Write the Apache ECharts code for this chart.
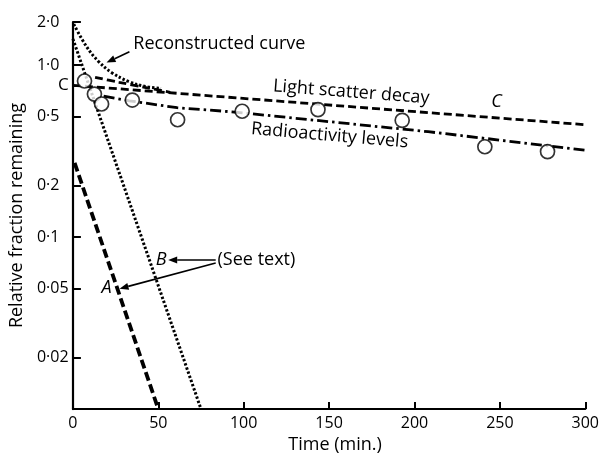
<!DOCTYPE html>
<html><head><meta charset="utf-8">
<script src="https://cdn.jsdelivr.net/npm/echarts@6/dist/echarts.min.js"></script>
<style>html,body{margin:0;padding:0;background:#fff}#c{width:602px;height:459px}</style>
</head><body><div id="c"></div>
<script>
// ---- data ----
const xTickValues = [0, 50, 100, 150, 200, 250, 300];
const yTickValues = [0.02, 0.05, 0.1, 0.2, 0.5, 0.763, 1.0, 1.78];
const yTickLabels = ['0·02', '0·05', '0·1', '0·2', '0·5', 'C', '1·0', '2·0'];

const radioPointTimes  = [6.8, 12.6, 16.8, 34.8, 61.3, 99.1, 143.5, 192.8, 241.2, 277.9];
const radioPointValues = [0.808, 0.678, 0.594, 0.626, 0.481, 0.539, 0.551, 0.477, 0.335, 0.314];

const radioLineTimes  = [18, 33, 61, 93, 208, 300];
const radioLineValues = [0.66, 0.62, 0.565, 0.535, 0.41, 0.32];

const scatterLineTimes  = [0, 300];
const scatterLineValues = [0.763, 0.45];

const scatterEarlyTimes  = [13, 27, 42, 57];
const scatterEarlyValues = [0.848, 0.794, 0.743, 0.695];

const reconTimes  = [0.5, 8, 15, 22.6, 32.5, 41.8, 51.6];
const reconValues = [1.73, 1.28, 1.05, 0.906, 0.804, 0.753, 0.733];

const lineATimes  = [1, 50];
const lineAValues = [0.27, 0.01];
const lineBTimes  = [0, 75];
const lineBValues = [1.42, 0.01];

const pairs = (xs, ys) => xs.map((x, i) => [x, ys[i]]);

const FONT = '"Open Sans", "DejaVu Sans", sans-serif';
const chart = echarts.init(document.getElementById('c'), null, {renderer: 'canvas'});

chart.setOption({
  backgroundColor: '#fff',
  animation: false,
  grid: {left: 71, right: 14, top: 22, bottom: 45, containLabel: false},
  xAxis: {
    type: 'value', min: 0, max: 300, interval: 50,
    name: 'Time (min.)', nameLocation: 'middle', nameGap: 24,
    nameTextStyle: {fontFamily: FONT, fontSize: 18, color: '#000', padding: [0, 0, 0, 12]},
    axisLine: {lineStyle: {color: '#000', width: 2.2}},
    axisTick: {inside: true, length: 7, lineStyle: {color: '#000', width: 2}, customValues: xTickValues},
    axisLabel: {fontFamily: FONT, fontSize: 16, color: '#000', margin: 6, customValues: xTickValues},
    splitLine: {show: false}
  },
  yAxis: {
    type: 'log', logBase: 10, min: 0.01, max: 1.78,
    name: 'Relative fraction remaining', nameLocation: 'middle', nameGap: 46,
    nameTextStyle: {fontFamily: FONT, fontSize: 18, color: '#000'},
    axisLine: {lineStyle: {color: '#000', width: 2.2}},
    axisTick: {inside: true, length: 8, lineStyle: {color: '#000', width: 2}, customValues: yTickValues},
    axisLabel: {
      fontFamily: FONT, fontSize: 16, color: '#000', align: 'left', margin: 36,
      customValues: yTickValues,
      formatter: v => {
        let best = 0, d = Infinity;
        yTickValues.forEach((t, i) => { const dd = Math.abs(Math.log(t) - Math.log(v)); if (dd < d) { d = dd; best = i; } });
        const lab = yTickLabels[best];
        return lab === 'C' ? '{c|C}' : lab;
      },
      rich: {c: {fontFamily: FONT, fontSize: 17, color: '#000', padding: [0, 0, 0, 21]}}
    },
    splitLine: {show: false}
  },
  series: [
    {name: 'Reconstructed curve', type: 'line', smooth: 0.4, symbol: 'none',
     data: pairs(reconTimes, reconValues),
     lineStyle: {color: '#000', width: 3, type: [2.4, 2], cap: 'butt'}},
    {name: 'B', type: 'line', symbol: 'none', data: pairs(lineBTimes, lineBValues),
     lineStyle: {color: '#000', width: 3, type: [2.4, 2], cap: 'butt'}},
    {name: 'A', type: 'line', symbol: 'none', data: pairs(lineATimes, lineAValues),
     lineStyle: {color: '#000', width: 3.8, type: [9, 4], cap: 'butt'}},
    {name: 'Light scatter decay', type: 'line', symbol: 'none', data: pairs(scatterLineTimes, scatterLineValues),
     lineStyle: {color: '#000', width: 2.8, type: [8, 4], cap: 'butt'}},
    {name: 'Light scatter early', type: 'line', smooth: 0.3, symbol: 'none', data: pairs(scatterEarlyTimes, scatterEarlyValues),
     lineStyle: {color: '#000', width: 2.8, type: [8, 4], cap: 'butt'}},
    {name: 'Radioactivity levels', type: 'line', symbol: 'none', data: pairs(radioLineTimes, radioLineValues),
     lineStyle: {color: '#000', width: 2.8, type: [11, 4, 2.5, 4], cap: 'butt'}},
    {name: 'Radioactivity points', type: 'scatter', symbol: 'circle', symbolSize: 14,
     data: pairs(radioPointTimes, radioPointValues),
     itemStyle: {color: '#fff', borderColor: '#000', borderWidth: 1.7}, z: 5}
  ]
});

// ---- annotations positioned in data coordinates ----
const P = (t, v) => chart.convertToPixel({gridIndex: 0}, [t, v]);
const txt = (t, v, text, opts) => {
  const p = P(t, v);
  return {type: 'text', x: p[0], y: p[1], rotation: opts.rot || 0, z: 10,
    style: {text, fontFamily: FONT, fontSize: opts.size || 18, fontStyle: opts.italic ? 'italic' : 'normal',
      fill: '#000', align: opts.align || 'center', verticalAlign: 'middle'}};
};
const arrow = (t1, v1, t2, v2) => {
  const a = P(t1, v1), b = P(t2, v2);
  const ang = Math.atan2(b[1] - a[1], b[0] - a[0]);
  const L = 9, W = 3.5;
  const bx = b[0] - L * Math.cos(ang), by = b[1] - L * Math.sin(ang);
  const nx = -Math.sin(ang) * W, ny = Math.cos(ang) * W;
  return [
    {type: 'line', z: 10, shape: {x1: a[0], y1: a[1], x2: bx, y2: by}, style: {stroke: '#000', lineWidth: 1.6}},
    {type: 'polygon', z: 10, shape: {points: [[b[0], b[1]], [bx + nx, by + ny], [bx - nx, by - ny]]}, style: {fill: '#000'}}
  ];
};

chart.setOption({
  graphic: [
    txt(35.4, 1.33, 'Reconstructed curve', {align: 'left'}),
    ...arrow(33.1, 1.195, 19.7, 1.034),
    txt(163, 0.695, 'Light scatter decay', {rot: -0.077}),
    txt(248, 0.609, 'C', {italic: true, size: 18}),
    txt(150.3, 0.389, 'Radioactivity levels', {rot: -0.085}),
    txt(51.6, 0.0736, 'B', {italic: true, size: 18}),
    ...arrow(83.6, 0.0736, 55.8, 0.0736),
    txt(84.7, 0.0736, '(See text)', {align: 'left'}),
    ...arrow(83.6, 0.0707, 27.3, 0.0501),
    txt(19.7, 0.0508, 'A', {italic: true, size: 18})
  ]
});
</script>
</body></html>
